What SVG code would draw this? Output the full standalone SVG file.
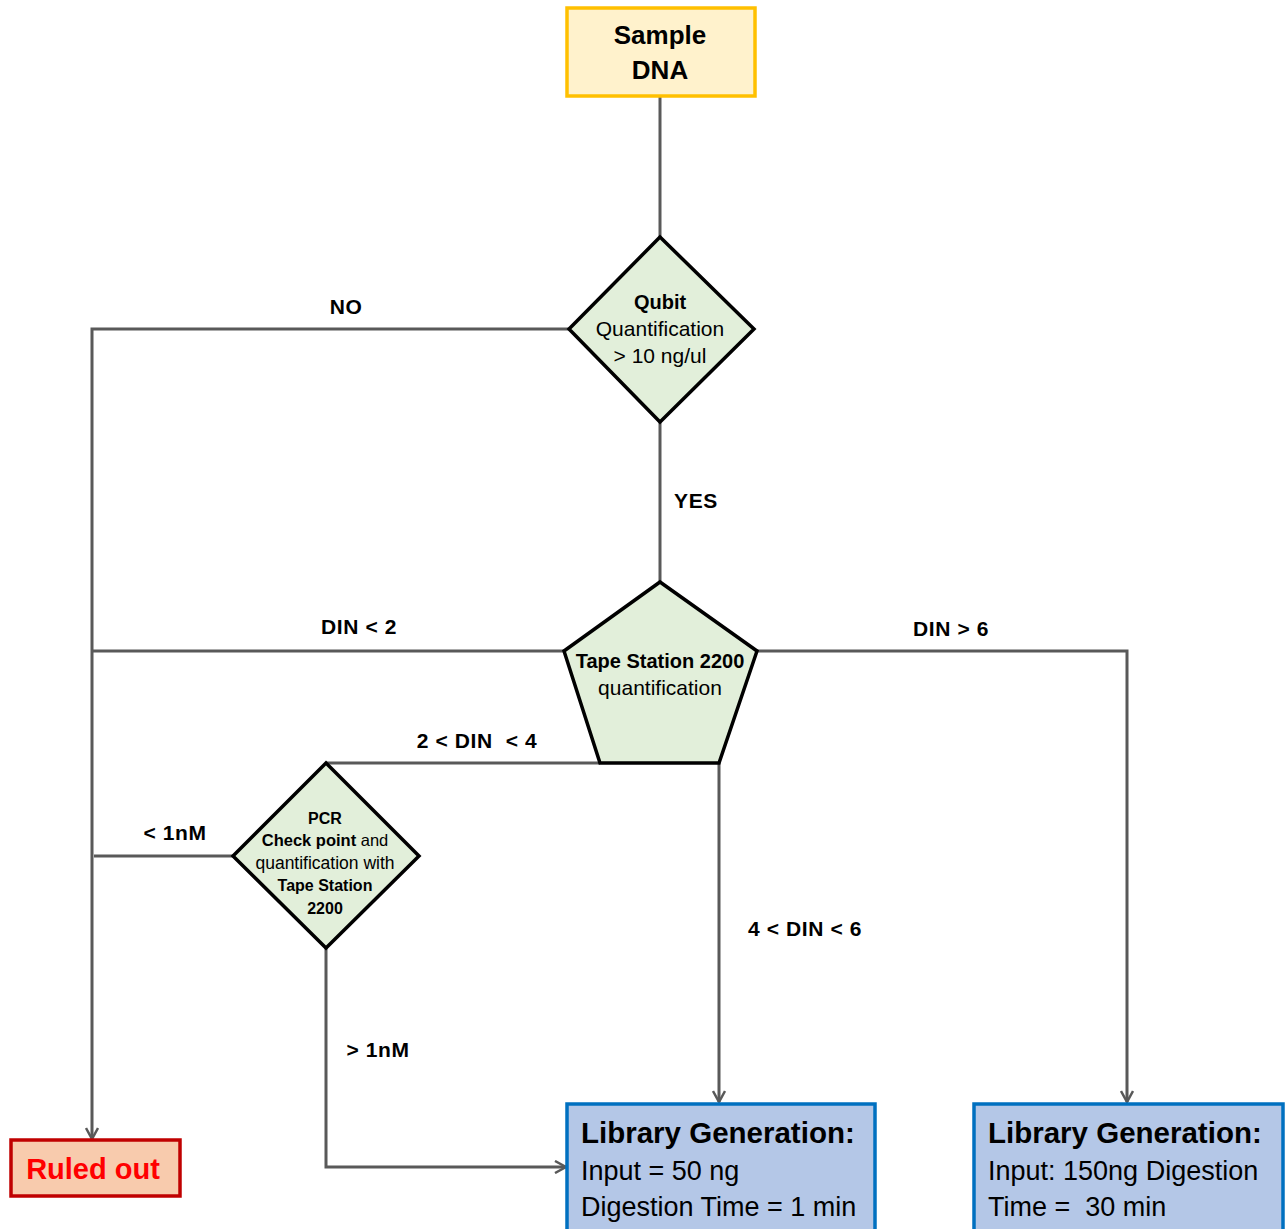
<svg xmlns="http://www.w3.org/2000/svg" width="1286" height="1229" viewBox="0 0 1286 1229">
<defs>
<style>
text{font-family:"Liberation Sans",Arial,sans-serif;fill:#000}
.b{font-weight:bold}
.c{text-anchor:middle}
.dec{fill:#E2EFDA;stroke:#000;stroke-width:3.5;stroke-linejoin:miter}
.lib{fill:#B4C7E7;stroke:#0070C0;stroke-width:3.5}
.con{fill:none;stroke:#595959;stroke-width:3}
.lbl{font-size:21px;font-weight:bold;letter-spacing:0.6px}
</style>
<marker id="arr" viewBox="0 0 14 14" refX="12" refY="7" markerWidth="14" markerHeight="14" markerUnits="userSpaceOnUse" orient="auto">
<path d="M1,1 L12,7 L1,13" fill="none" stroke="#595959" stroke-width="2.5"/>
</marker>
</defs>
<rect width="1286" height="1229" fill="#fff"/>
<g id="connectors">
<path class="con" d="M660,96 V237"/>
<path class="con" d="M569,329 H92 V1139" marker-end="url(#arr)"/>
<path class="con" d="M660,422 V582"/>
<path class="con" d="M564,651 H92"/>
<path class="con" d="M757,651 H1127 V1102" marker-end="url(#arr)"/>
<path class="con" d="M600,763 H326"/>
<path class="con" d="M719,763 V1102" marker-end="url(#arr)"/>
<path class="con" d="M233,856 H94"/>
<path class="con" d="M326,948 V1167 H566" marker-end="url(#arr)"/>
<text class="lbl" x="346" y="314" text-anchor="middle">NO</text>
<text class="lbl" x="696" y="508" text-anchor="middle">YES</text>
<text class="lbl" x="359" y="634" text-anchor="middle">DIN &lt; 2</text>
<text class="lbl" x="951" y="636" text-anchor="middle">DIN &gt; 6</text>
<text class="lbl" x="477" y="748" text-anchor="middle" xml:space="preserve">2 &lt; DIN  &lt; 4</text>
<text class="lbl" x="805" y="936" text-anchor="middle">4 &lt; DIN &lt; 6</text>
<text class="lbl" x="175" y="840" text-anchor="middle">&lt; 1nM</text>
<text class="lbl" x="378" y="1057" text-anchor="middle">&gt; 1nM</text>
</g>
<g id="sample-dna">
<rect x="567" y="8" width="188" height="88" fill="#FFF2CC" stroke="#FFC000" stroke-width="3.5"/>
<text class="b c" x="660" y="44" font-size="26">Sample</text>
<text class="b c" x="660" y="79" font-size="26">DNA</text>
</g>
<g id="qubit">
<polygon class="dec" points="660,237 754,329 660,422 569,329"/>
<text class="b c" x="660" y="309" font-size="20">Qubit</text>
<text class="c" x="660" y="336" font-size="21">Quantification</text>
<text class="c" x="660" y="363" font-size="21">&gt; 10 ng/ul</text>
</g>
<g id="tape-station">
<polygon class="dec" points="660,582 757,651 719,763 600,763 564,651"/>
<text class="b c" x="660" y="668" font-size="20">Tape Station 2200</text>
<text class="c" x="660" y="695" font-size="21">quantification</text>
</g>
<g id="pcr">
<polygon class="dec" points="326,763 419,856 326,948 233,856"/>
<text class="b c" x="325" y="824" font-size="16">PCR</text>
<text class="c" x="325" y="846" font-size="16.5"><tspan class="b">Check point</tspan> and</text>
<text class="c" x="325" y="869" font-size="17.5">quantification with</text>
<text class="b c" x="325" y="891" font-size="16">Tape Station</text>
<text class="b c" x="325" y="914" font-size="16">2200</text>
</g>
<g id="ruled-out">
<rect x="11" y="1140" width="169" height="56" fill="#F8CBAD" stroke="#C00000" stroke-width="3.5"/>
<text class="b c" x="93" y="1179" font-size="29" style="fill:#FF0000">Ruled out</text>
</g>
<g id="library-1">
<rect class="lib" x="567" y="1104" width="308" height="140"/>
<text class="b" x="581" y="1143" font-size="29.5">Library Generation:</text>
<text x="581" y="1180" font-size="27">Input = 50 ng</text>
<text x="581" y="1216" font-size="27">Digestion Time = 1 min</text>
</g>
<g id="library-2">
<rect class="lib" x="974" y="1104" width="309" height="140"/>
<text class="b" x="988" y="1143" font-size="29.5">Library Generation:</text>
<text x="988" y="1180" font-size="27">Input: 150ng Digestion</text>
<text x="988" y="1216" font-size="27" xml:space="preserve">Time =  30 min</text>
</g>
</svg>
